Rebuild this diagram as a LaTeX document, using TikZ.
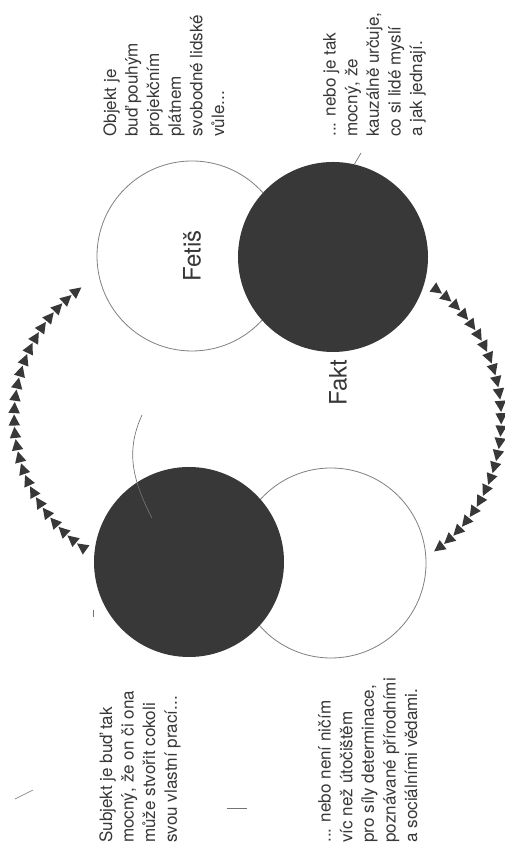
\documentclass[tikz,border=0pt]{standalone}
\usepackage{fontspec}
\setmainfont{TeX Gyre Heros}
\usepackage{xcolor}
\usetikzlibrary{calc,decorations.markings}

\begin{document}
\begin{tikzpicture}[x=0.75pt,y=0.75pt,
  disc/.style={circle,minimum size=142.5pt,inner sep=0pt},
  note/.style={rotate=90,anchor=north west,align=left,inner sep=0pt,text=black!78,font=\fontsize{12.8}{16.2}\selectfont},
  tri/.style={decoration={markings,mark=between positions 0 and 1 step 9.3pt with {\fill[black!78] (4.6pt,0) -- (-3.8pt,4.3pt) -- (-3.8pt,-4.3pt) -- cycle;}},postaction={decorate}},
  lead/.style={black!55,line width=0.5pt}]
  \useasboundingbox (0,0) rectangle (505,848);
  \fill[white] (0,0) rectangle (505,848);
  \node[disc,draw=black!50,line width=0.6pt,fill=white] (fetis) at (192,592) {};
  \node[disc,fill=black!78] (fakt) at (333,591) {};
  \node[disc,draw=black!50,line width=0.6pt,fill=white] (nic) at (331,285) {};
  \node[disc,fill=black!78] (subj) at (189,286) {};
  \node[rotate=90,text=black!78,font=\fontsize{18}{20}\selectfont] (fetislbl) at (fetis.center) {Fetiš};
  \node[rotate=90,anchor=east,inner sep=0pt,text=black!78,font=\fontsize{18}{20}\selectfont] (faktlbl) at ($(fakt.south)+(5,-7)$) {Fakt};
  \node[note] (objtxt) at (103,711) {Objekt je\\buď pouhým\\projekčním\\plátnem\\svobodné lidské\\vůle...};
  \node[note] (fakttxt) at (323,711) {... nebo je tak\\mocný, že\\kauzálně určuje,\\co si lidé myslí\\a jak jednají.};
  \node[note] (subjtxt) at (99,5) {Subjekt je buď tak\\mocný, že on či ona\\může stvořit cokoli\\svou vlastní prací...};
  \node[note] (nictxt) at (318,5) {... nebo není ničím\\víc než útočištěm\\pro síly determinace,\\poznávané přírodními\\a sociálními vědami.};
  \coordinate (l0) at ($(subj.center)+(-107,15)$);
  \coordinate (l1) at ($(fetis.center)+(-107,-29)$);
  \coordinate (r0) at ($(fakt.center)+(104,-33)$);
  \coordinate (r1) at ($(nic.center)+(102,11)$);
  \path[tri] (l0) to[bend left=55,looseness=1.1] (l1);
  \path[tri] (r0) to[bend left=55,looseness=1.05] (r1);
  \coordinate (faktlead) at (361,695);
  \draw[lead] (fakt.77) -- (faktlead);
  \coordinate (subjlead) at (142,433);
  \draw[lead] (subjlead) .. controls (127,400) and (130,372) .. ($(subj.center)+(-37,44)$);
  % loose pencil marks
  \coordinate (m1) at (15,49);
  \draw[lead] (m1) -- ++(18,9);
  \coordinate (m2) at (93,238);
  \draw[lead] (m2) -- ++(0,-7);
  \coordinate (m3) at (227,40);
  \draw[lead] (m3) -- ++(20,0);
\end{tikzpicture}
\end{document}
